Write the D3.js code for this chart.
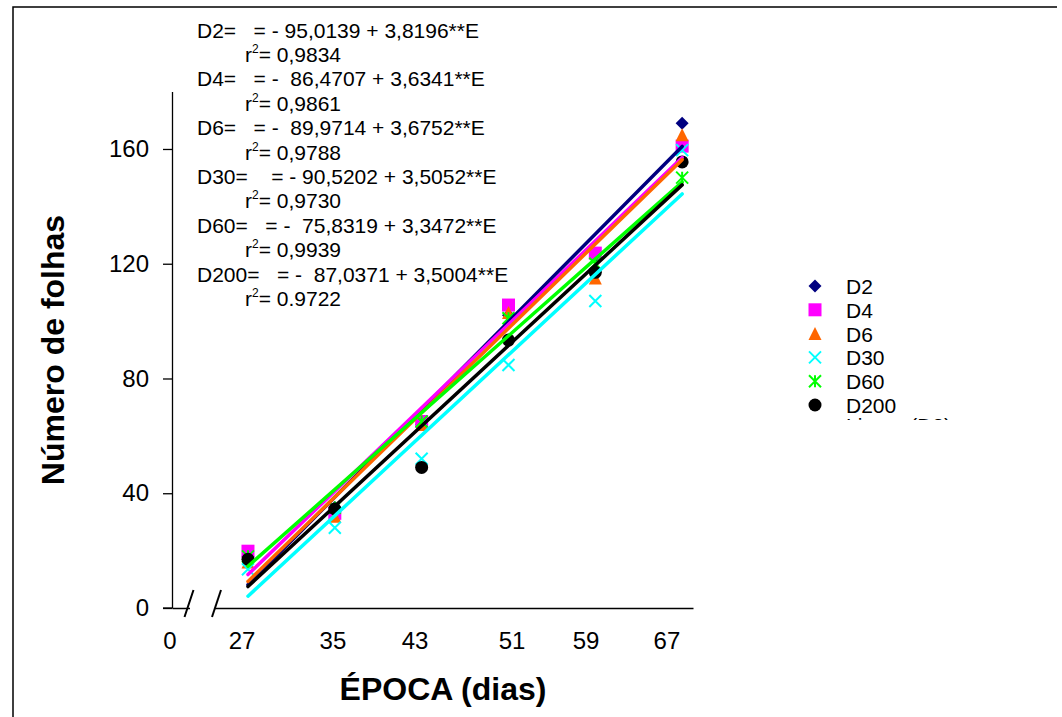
<!DOCTYPE html>
<html>
<head>
<meta charset="utf-8">
<script src="https://cdn.jsdelivr.net/npm/d3@7"></script>
<style>
  html, body { margin: 0; padding: 0; background: #fff; }
  svg { display: block; font-family: Arial, "Liberation Sans", sans-serif; }
</style>
</head>
<body>
<svg id="chart" width="1062" height="717"></svg>
<script>
// ---------- data ----------
const epochs = [27, 35, 43, 51, 59, 67];
const seriesNames = ["D2", "D4", "D6", "D30", "D60", "D200"];
const d2   = [18, 35, 64, 102, 122, 169];
const d4   = [19.8, 33, 65, 105.6, 123.7, 161];
const d6   = [16, 32, 64, 103, 115, 165];
const d30  = [13.5, 28, 52, 84.7, 107, 159.6];
const d60  = [18, 35, 65, 101, 120, 150];
const d200 = [17, 34.5, 49, 93.4, 117, 155.5];
const intercepts = [-95.0139, -86.4707, -89.9714, -90.5202, -75.8319, -87.0371];
const slopes     = [3.8196, 3.6341, 3.6752, 3.5052, 3.3472, 3.5004];
const equationTexts = [
  "D2=   = - 95,0139 + 3,8196**E",
  "D4=   = -  86,4707 + 3,6341**E",
  "D6=   = -  89,9714 + 3,6752**E",
  "D30=    = - 90,5202 + 3,5052**E",
  "D60=   = -  75,8319 + 3,3472**E",
  "D200=   = -  87,0371 + 3,5004**E"
];
const r2Texts = ["= 0,9834", "= 0,9861", "= 0,9788", "= 0,9730", "= 0,9939", "= 0.9722"];
const yTicks = [0, 40, 80, 120, 160];
const xTickLabels = ["0", "27", "35", "43", "51", "59", "67"];
const xTickAt = [19.8, 26.45, 34.83, 42.39, 51.33, 58.14, 65.6];
const xDomain = [20, 68];
const yDomain = [0, 180];

// ---------- styles ----------
const colors = ["#000080", "#FF00FF", "#FF6600", "#00FFFF", "#00FF00", "#000000"];
const shapes = ["diamond", "square", "triangle", "x", "asterisk", "circle"];
const allSeries = [d2, d4, d6, d30, d60, d200];

const svg = d3.select("#chart");

// frame
svg.append("path")
  .attr("d", "M13,717 L13,7 L1057,7")
  .attr("fill", "none").attr("stroke", "#000").attr("stroke-width", 1.5);

const x = d3.scaleLinear().domain(xDomain).range([172, 693]);
const y = d3.scaleLinear().domain(yDomain).range([608, 91.6]);

function markerPath(shape, s) {
  const h = s / 2;
  switch (shape) {
    case "diamond": return `M0,${-h}L${h},0L0,${h}L${-h},0Z`;
    case "square": return `M${-h},${-h}H${h}V${h}H${-h}Z`;
    case "triangle": return `M0,${-h}L${h},${h}L${-h},${h}Z`;
    case "x": return `M${-h},${-h}L${h},${h}M${-h},${h}L${h},${-h}`;
    case "asterisk": return `M${-h},${-h}L${h},${h}M${-h},${h}L${h},${-h}M0,${-h}V${h}`;
    case "circle": return d3.arc()({innerRadius: 0, outerRadius: h, startAngle: 0, endAngle: 2 * Math.PI});
  }
}
function drawMarker(g, shape, color, cx, cy) {
  const stroked = shape === "x" || shape === "asterisk";
  g.append("path")
    .attr("transform", `translate(${cx},${cy})`)
    .attr("d", markerPath(shape, stroked ? 12 : 13))
    .attr("fill", stroked ? "none" : color)
    .attr("stroke", stroked ? color : "none")
    .attr("stroke-width", stroked ? 2 : 0);
}

// y axis
const yAxis = d3.axisLeft(y).tickValues(yTicks).tickSize(9).tickSizeOuter(0).tickPadding(14);
const gy = svg.append("g").attr("transform", "translate(172,0)").call(yAxis);
gy.select(".domain").attr("stroke", "#000").attr("stroke-width", 1.3);
gy.selectAll(".tick line").attr("stroke", "#000").attr("stroke-width", 1.3);
gy.selectAll(".tick text").attr("font-size", 24).attr("fill", "#000")
  .attr("font-family", "Arial, 'Liberation Sans', sans-serif");

// x axis (no ticks, broken line)
const xAxis = d3.axisBottom(x).tickValues([]).tickSizeOuter(0);
const gx = svg.append("g").attr("transform", "translate(0,608)").call(xAxis);
gx.select(".domain").attr("stroke", "#000").attr("stroke-width", 1.3);
svg.append("line").attr("x1", 163).attr("x2", 172).attr("y1", 608).attr("y2", 608)
  .attr("stroke", "#000").attr("stroke-width", 1.3);
// gap + break marks
svg.append("rect").attr("x", 190).attr("y", 604).attr("width", 24).attr("height", 8).attr("fill", "#fff");
[[193.5, 590, 184.5, 617], [221, 590, 212, 617]].forEach(d => {
  svg.append("line").attr("x1", d[0]).attr("y1", d[1]).attr("x2", d[2]).attr("y2", d[3])
    .attr("stroke", "#000").attr("stroke-width", 2);
});

// x tick labels
svg.append("g").selectAll("text").data(xTickLabels).join("text")
  .attr("x", (d, i) => x(xTickAt[i]))
  .attr("y", 649)
  .attr("text-anchor", "middle")
  .attr("font-size", 24)
  .text(d => d);

// points
const gp = svg.append("g");
allSeries.forEach((vals, si) => {
  vals.forEach((v, i) => drawMarker(gp, shapes[si], colors[si], x(epochs[i]), y(v)));
});

// regression lines
const gl = svg.append("g");
allSeries.forEach((vals, si) => {
  const e0 = epochs[0], e1 = epochs[epochs.length - 1];
  gl.append("line")
    .attr("x1", x(e0)).attr("y1", y(intercepts[si] + slopes[si] * e0))
    .attr("x2", x(e1)).attr("y2", y(intercepts[si] + slopes[si] * e1))
    .attr("stroke", colors[si]).attr("stroke-width", 3.5).attr("stroke-linecap", "round");
});

// equations
const ge = svg.append("g").attr("font-size", 21).attr("fill", "#000");
equationTexts.forEach((t, i) => {
  const cy = 30 + i * 48.8;
  ge.append("text").attr("x", 197).attr("y", cy + 7.5).attr("xml:space", "preserve")
    .style("white-space", "pre").text(t);
  const r = ge.append("text").attr("x", 245).attr("y", cy + 24.4 + 7.5).style("white-space", "pre");
  r.append("tspan").text("r");
  r.append("tspan").attr("font-size", 12).attr("dy", -9).text("2");
  r.append("tspan").attr("dy", 9).text(r2Texts[i]);
});

// legend
const gLeg = svg.append("g");
seriesNames.forEach((n, i) => {
  const cy = 286 + i * 23.8;
  drawMarker(gLeg, shapes[i], colors[i], 815, cy);
  gLeg.append("text").attr("x", 846).attr("y", cy + 8).attr("font-size", 21).text(n);
});
svg.append("clipPath").attr("id", "legclip").append("rect")
  .attr("x", 800).attr("y", 300).attr("width", 200).attr("height", 120);
gLeg.append("text").attr("clip-path", "url(#legclip)")
  .attr("x", 846).attr("y", 433).attr("font-size", 21).text("Linear (D2)");

// axis titles
svg.append("text")
  .attr("transform", "translate(64,350) rotate(-90)")
  .attr("text-anchor", "middle").attr("font-size", 32).attr("font-weight", "bold")
  .text("Número de folhas");
svg.append("text")
  .attr("x", 443).attr("y", 700)
  .attr("text-anchor", "middle").attr("font-size", 32).attr("font-weight", "bold")
  .text("ÉPOCA (dias)");
</script>
</body>
</html>
